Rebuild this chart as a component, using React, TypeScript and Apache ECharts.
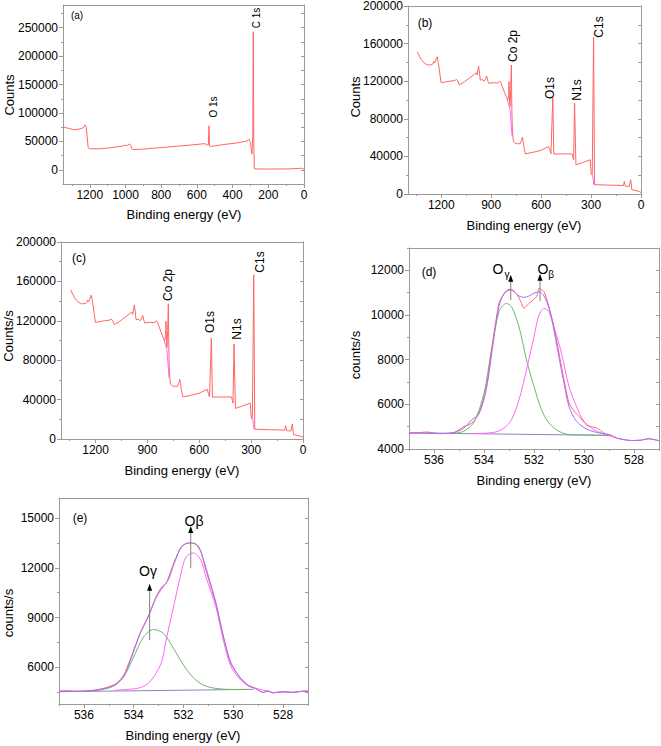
import React, { useEffect, useRef } from "react";
import * as echarts from "echarts";

const FONT = '"Liberation Sans", Arial, Helvetica, sans-serif';
const AXIS = "#9a9a9a";
const RED = "#ff6464";
const PURPLE = "#a070ff";
const GREEN = "#6fb56f";
const MAGENTA = "#ff66ff";
const BASE = "#8a8ab0";

// ---- tick values ----
const aTicksX = [0, 200, 400, 600, 800, 1000, 1200];
const aMinorX = [100, 300, 500, 700, 900, 1100, 1300];
const aTicksY = [0, 50000, 100000, 150000, 200000, 250000];
const aMinorY = [25000, 75000, 125000, 175000, 225000, 275000];
const bTicksX = [0, 300, 600, 900, 1200];
const bMinorX = [150, 450, 750, 1050, 1350];
const bTicksY = [0, 40000, 80000, 120000, 160000, 200000];
const bMinorY = [20000, 60000, 100000, 140000, 180000];
const oTicksX = [528, 530, 532, 534, 536];
const oMinorX = [527, 529, 531, 533, 535, 537];
const dTicksY = [4000, 6000, 8000, 10000, 12000];
const dMinorY = [5000, 7000, 9000, 11000, 13000];
const eTicksY = [6000, 9000, 12000, 15000];
const eMinorY = [4500, 7500, 10500, 13500];

// ---- (a) survey [eV, counts] ----
const surveyA: number[][] = [
  [1350, 75700], [1320, 73000], [1290, 70400], [1260, 71500], [1240, 73500], [1232, 75000],
  [1226, 79000], [1220, 76000], [1209, 38700], [1200, 37000], [1142, 37000], [1080, 39000],
  [1020, 41500], [997, 43500], [990, 42500], [980, 45500], [972, 44000], [962, 35500],
  [900, 36500], [800, 39000], [700, 41800], [600, 44600], [556, 46000], [545, 43500],
  [536, 44000], [532, 77500], [529, 42000], [524, 41000], [450, 44500], [380, 47000],
  [321, 50500], [308, 53500], [300, 48000], [292, 27500], [287, 60000], [284, 243000],
  [281, 40000], [278, 1500], [200, 1300], [100, 1500], [30, 2200], [13, 2800], [6, 2000], [0, 500],
];

// ---- (b)/(c) survey [eV, counts] ----
const surveyB: number[][] = [
  [1345, 151300], [1320, 143000], [1300, 139000], [1281, 137200], [1260, 137500], [1251, 138300],
  [1245, 141000], [1240, 139500], [1232, 143000], [1225, 146000], [1218, 140000], [1201, 118400],
  [1180, 119000], [1150, 120000], [1125, 120500], [1115, 121000], [1110, 122000], [1102, 120500],
  [1092, 116000], [1060, 119500], [1030, 123500], [1000, 127500], [992, 129000], [985, 126500],
  [976, 136100], [970, 128000], [966, 121300], [950, 121500], [942, 120000], [935, 122000],
  [927, 125500], [920, 120000], [915, 117800], [880, 118500], [860, 118000], [850, 120000],
  [843, 119000], [833, 114200], [820, 108000], [809, 102900], [800, 100000], [795, 105000],
  [793, 119500], [790, 100000], [787, 93000], [783, 110000], [779, 137200], [776, 90000],
  [773, 68200], [767, 55800], [755, 54000], [743, 53400], [725, 53600], [718, 57000],
  [713, 60500], [708, 56000], [704, 50500], [695, 42700], [650, 44300], [600, 46500],
  [554, 50500], [547, 46000], [541, 42700], [530, 102500], [524, 42500], [470, 42700],
  [414, 42700], [405, 36400], [399, 96500], [391, 31100], [350, 33500], [305, 36400],
  [299, 20500], [293, 21600], [285, 166600], [279, 9900], [200, 9500], [106, 9000],
  [100, 13400], [95, 8500], [70, 8000], [62, 15200], [55, 4500], [30, 3500], [10, 2500], [0, 1700],
];
const surveyBFitDrop: number[][] = [[805, 101000], [795, 95000], [787, 90000], [780, 75000], [775, 62000]];
const surveyBFitC: number[][] = [[292, 21000], [287, 15000], [283, 9500]];

// ---- (d) O 1s [eV, counts/s] ----
const dData: number[][] = [
  [537.0, 4714], [536.6, 4730], [536.3, 4760], [536.0, 4720], [535.8, 4685], [535.5, 4700],
  [535.2, 4744], [535.0, 4850], [534.8, 5012], [534.6, 5086], [534.4, 5250], [534.2, 5607],
  [534.0, 6300], [533.9, 6800], [533.75, 8000], [533.6, 9180], [533.4, 10520], [533.2, 10960],
  [532.9, 11140], [532.7, 10960], [532.55, 10650], [532.4, 10300], [532.2, 10520], [531.9, 10820],
  [531.8, 11190], [531.6, 11040], [531.4, 10370], [531.25, 9700], [531.1, 8880], [530.95, 8000],
  [530.8, 7095], [530.6, 6054], [530.4, 5700], [530.2, 5458], [529.9, 5086], [529.7, 5000],
  [529.5, 4940], [529.3, 4800], [529.1, 4640], [528.9, 4560], [528.7, 4490], [528.4, 4420],
  [528.2, 4387], [528.0, 4380], [527.7, 4400], [527.4, 4460], [527.2, 4420], [527.0, 4372],
];
const dEnvelope: number[][] = [
  [537.0, 4714], [536.0, 4705], [535.5, 4700], [535.2, 4730], [534.8, 4937], [534.5, 5300],
  [534.2, 5577], [533.9, 6723], [533.6, 9000], [533.4, 10400], [533.2, 10950], [533.0, 11150],
  [532.8, 11050], [532.6, 10850], [532.4, 10790], [532.2, 10850], [532.0, 10980], [531.8, 11030],
  [531.6, 10850], [531.4, 10300], [531.2, 9300], [531.0, 8100], [530.8, 6946], [530.6, 5905],
  [530.3, 5235], [529.9, 4893], [529.5, 4744], [529.1, 4670], [528.9, 4620], [528.7, 4490],
  [528.4, 4420], [528.2, 4387], [528.0, 4380], [527.7, 4400], [527.4, 4460], [527.2, 4420], [527.0, 4372],
];
const dGamma: number[][] = [
  [535.2, 4700], [534.8, 4800], [534.4, 5200], [534.0, 6500], [533.7, 8435], [533.4, 10146],
  [533.1, 10518], [532.9, 10370], [532.6, 9476], [532.3, 7988], [532.0, 6800], [531.7, 5756],
  [531.4, 5160], [531.0, 4790], [530.6, 4650], [530.0, 4630], [529.0, 4610],
];
const dBeta: number[][] = [
  [534.5, 4690], [533.6, 4744], [533.2, 4937], [532.9, 5310], [532.6, 6202], [532.3, 7542],
  [532.0, 9030], [531.8, 10000], [531.6, 10295], [531.4, 10146], [531.2, 9476], [530.9, 8286],
  [530.6, 6800], [530.3, 5905], [530.0, 5235], [529.6, 4863], [529.2, 4670], [528.9, 4600],
];
const dBaseline: number[][] = [[537.0, 4720], [529.0, 4610]];
const dArrowGamma: number[][] = [[532.93, 10665], [532.93, 11600]];
const dArrowBeta: number[][] = [[531.76, 10620], [531.76, 11640]];

// ---- (e) O 1s [eV, counts/s] ----
const eData: number[][] = [
  [537.0, 4577], [536.7, 4600], [536.4, 4557], [535.9, 4577], [535.4, 4677], [535.0, 4838],
  [534.7, 5038], [534.4, 5539], [534.1, 6641], [533.75, 8044], [533.4, 9146], [533.1, 10248],
  [532.9, 10800], [532.7, 11050], [532.4, 12252], [532.1, 13254], [531.9, 13450], [531.7, 13495],
  [531.5, 13415], [531.3, 12954], [531.1, 11852], [530.7, 9848], [530.4, 7844], [530.1, 6240],
  [529.7, 5339], [529.4, 4938], [529.1, 4737], [528.8, 4497], [528.6, 4577], [528.4, 4477],
  [528.0, 4537], [527.6, 4497], [527.3, 4557], [527.0, 4577],
];
const eEnvelope: number[][] = [
  [537.0, 4577], [536.0, 4590], [535.4, 4650], [535.0, 4800], [534.7, 5000], [534.4, 5450],
  [534.1, 6550], [533.75, 8000], [533.4, 9100], [533.1, 10200], [532.8, 10900], [532.6, 11300],
  [532.4, 12150], [532.1, 13200], [531.8, 13500], [531.6, 13480], [531.4, 13300], [531.2, 12500],
  [531.0, 11500], [530.7, 9900], [530.4, 7900], [530.1, 6300], [529.7, 5350], [529.4, 4900],
  [529.1, 4720], [528.8, 4497], [528.6, 4577], [528.4, 4477], [528.0, 4537], [527.6, 4497],
  [527.3, 4557], [527.0, 4577],
];
const eGamma: number[][] = [
  [535.8, 4600], [535.4, 4637], [534.8, 4878], [534.4, 5439], [534.0, 6641], [533.6, 7844],
  [533.2, 8284], [532.8, 8044], [532.4, 7142], [532.0, 6140], [531.6, 5379], [531.2, 4938],
  [530.7, 4737], [530.0, 4677], [529.5, 4680],
];
const eBeta: number[][] = [
  [534.8, 4620], [534.3, 4677], [533.75, 4777], [533.35, 5138], [532.9, 6240], [532.7, 7643],
  [532.4, 9647], [532.1, 11651], [531.9, 12653], [531.6, 12894], [531.3, 12453], [531.1, 11451],
  [530.7, 9647], [530.4, 7643], [530.1, 6080], [529.7, 5239], [529.3, 4838], [528.8, 4637],
  [528.6, 4577], [528.4, 4477], [528.0, 4537], [527.6, 4497], [527.3, 4557], [527.0, 4577],
];
const eBaseline: number[][] = [[537.0, 4540], [529.2, 4680]];
const eArrowBeta: number[][] = [[531.71, 11970], [531.71, 14250]];
const eArrowGamma: number[][] = [[533.36, 7640], [533.36, 10770]];

type Panel = {
  left: number; top: number; width: number; height: number;
  xMin: number; xMax: number; yMin: number; yMax: number;
  xMajor: number[]; xMinor: number[]; yMajor: number[]; yMinor: number[];
};

const panels: Panel[] = [
  { left: 63, top: 5, width: 241, height: 179, xMin: 0, xMax: 1350, yMin: -25000, yMax: 290000,
    xMajor: aTicksX, xMinor: aMinorX, yMajor: aTicksY, yMinor: aMinorY },
  { left: 408, top: 6, width: 233, height: 188, xMin: 0, xMax: 1400, yMin: 0, yMax: 200000,
    xMajor: bTicksX, xMinor: bMinorX, yMajor: bTicksY, yMinor: bMinorY },
  { left: 61, top: 242, width: 242, height: 197, xMin: 0, xMax: 1400, yMin: 0, yMax: 200000,
    xMajor: bTicksX, xMinor: bMinorX, yMajor: bTicksY, yMinor: bMinorY },
  { left: 409, top: 248, width: 250, height: 201, xMin: 527, xMax: 537, yMin: 4000, yMax: 13000,
    xMajor: oTicksX, xMinor: oMinorX, yMajor: dTicksY, yMinor: dMinorY },
  { left: 59, top: 498, width: 249, height: 206, xMin: 527, xMax: 537, yMin: 3800, yMax: 16200,
    xMajor: oTicksX, xMinor: oMinorX, yMajor: eTicksY, yMinor: eMinorY },
];

function buildOption() {
  const grid: any[] = [];
  const xAxis: any[] = [];
  const yAxis: any[] = [];
  const lineStyle = { color: AXIS, width: 1 };
  const label = {
    color: "#000", fontSize: 12, fontFamily: FONT, margin: 5,
    formatter: (v: number) => String(v),
  };
  panels.forEach((p, i) => {
    grid.push({ left: p.left, top: p.top, width: p.width, height: p.height });
    const xb = { gridIndex: i, type: "value", inverse: true, min: p.xMin, max: p.xMax, splitLine: { show: false } };
    xAxis.push({ ...xb, position: "bottom",
      axisLine: { show: true, onZero: false, lineStyle },
      axisTick: { show: true, length: 4, customValues: p.xMajor, lineStyle },
      axisLabel: { ...label, customValues: p.xMajor } });
    xAxis.push({ ...xb, position: "bottom",
      axisLine: { show: false, onZero: false },
      axisTick: { show: true, length: 2, customValues: p.xMinor, lineStyle },
      axisLabel: { show: false } });
    xAxis.push({ ...xb, position: "top",
      axisLine: { show: true, onZero: false, lineStyle },
      axisTick: { show: false }, axisLabel: { show: false } });
    const yb = { gridIndex: i, type: "value", min: p.yMin, max: p.yMax, splitLine: { show: false } };
    yAxis.push({ ...yb, position: "left",
      axisLine: { show: true, onZero: false, lineStyle },
      axisTick: { show: true, length: 4, customValues: p.yMajor, lineStyle },
      axisLabel: { ...label, customValues: p.yMajor } });
    yAxis.push({ ...yb, position: "left",
      axisLine: { show: false, onZero: false },
      axisTick: { show: true, length: 2, customValues: p.yMinor, lineStyle },
      axisLabel: { show: false } });
    yAxis.push({ ...yb, position: "right",
      axisLine: { show: true, onZero: false, lineStyle },
      axisTick: { show: true, inside: true, length: 3, customValues: [...p.yMajor, ...p.yMinor], lineStyle },
      axisLabel: { show: false } });
  });

  const line = (i: number, data: number[][], color: string, smooth: number | boolean = false, z = 2) => ({
    type: "line", xAxisIndex: i * 3, yAxisIndex: i * 3, data, smooth,
    symbol: "none", showSymbol: false, z,
    lineStyle: { color, width: 1 }, itemStyle: { color }, silent: true,
  });
  const arrow = (i: number, data: number[][]) => ({
    type: "line", xAxisIndex: i * 3, yAxisIndex: i * 3, z: 5, silent: true,
    showSymbol: true, symbol: "none",
    data: [
      { value: data[0], symbol: "none" },
      { value: data[1], symbol: "triangle", symbolSize: [5, 7], symbolOffset: [0, -1] },
    ],
    lineStyle: { color: "#808080", width: 1 }, itemStyle: { color: "#000" },
  });

  const series: any[] = [
    line(0, surveyA, RED),
    line(1, surveyB, RED),
    line(1, surveyBFitDrop, MAGENTA),
    line(1, surveyBFitC, MAGENTA),
    line(2, surveyB, RED),
    line(2, surveyBFitDrop, MAGENTA),
    line(2, surveyBFitC, MAGENTA),
    line(3, dBaseline, BASE),
    line(3, dGamma, GREEN, 0.3),
    line(3, dBeta, MAGENTA, 0.3),
    line(3, dData, RED, 0.2),
    line(3, dEnvelope, PURPLE, 0.3),
    arrow(3, dArrowGamma),
    arrow(3, dArrowBeta),
    line(4, eBaseline, BASE),
    line(4, eGamma, GREEN, 0.3),
    line(4, eBeta, MAGENTA, 0.3),
    line(4, eData, RED, 0.2),
    line(4, eEnvelope, PURPLE, 0.3),
    arrow(4, eArrowBeta),
    arrow(4, eArrowGamma),
  ];

  const txt = (text: string, x: number, y: number, size = 12, rot = 0) => ({
    type: "text", x, y, rotation: rot, z: 10,
    style: { text, fill: "#000", font: `${size}px ${FONT}`, align: "center", verticalAlign: "middle" },
  });
  const R = Math.PI / 2;
  const graphic: any[] = [
    // panel letters
    txt("(a)", 77, 15, 10), txt("(b)", 425, 23), txt("(c)", 79, 258), txt("(d)", 429, 272), txt("(e)", 80, 518),
    // y titles
    txt("Counts", 9, 95, 13, R), txt("Counts", 355, 97, 13, R), txt("Counts/s", 8, 336, 13, R),
    txt("counts/s", 355, 355, 13, R), txt("counts/s", 8, 613, 13, R),
    // x titles
    txt("Binding energy (eV)", 184, 214, 13), txt("Binding energy (eV)", 524, 225, 13),
    txt("Binding energy (eV)", 182, 470, 13), txt("Binding energy (eV)", 534, 480, 13),
    txt("Binding energy (eV)", 183, 735, 13),
    // peak labels
    txt("C 1s", 256, 18, 10, R), txt("O 1s", 213, 107, 10, R),
    txt("Co 2p", 513, 46, 12, R), txt("O1s", 550, 88, 12, R), txt("N1s", 577, 90, 12, R), txt("C1s", 599, 27, 12, R),
    txt("Co 2p", 168, 285, 12, R), txt("O1s", 210, 322, 12, R), txt("N1s", 237, 329, 12, R), txt("C1s", 260, 262, 12, R),
    // O species
    txt("O", 498, 269, 14), txt("γ", 507, 274, 10), txt("O", 543, 269, 14), txt("β", 551, 274, 10),
    txt("Oβ", 194, 521, 14), txt("Oγ", 148, 571, 14),
  ];

  return { animation: false, backgroundColor: "#ffffff", grid, xAxis, yAxis, series, graphic };
}

export default function App() {
  const ref = useRef<HTMLDivElement>(null);
  useEffect(() => {
    if (!ref.current) return;
    const chart = echarts.init(ref.current, undefined, { renderer: "svg" });
    chart.setOption(buildOption() as any);
    return () => chart.dispose();
  }, []);
  return (
    <div
      ref={ref}
      style={{ position: "fixed", left: 0, top: 0, width: 661, height: 746, background: "#fff" }}
    />
  );
}
